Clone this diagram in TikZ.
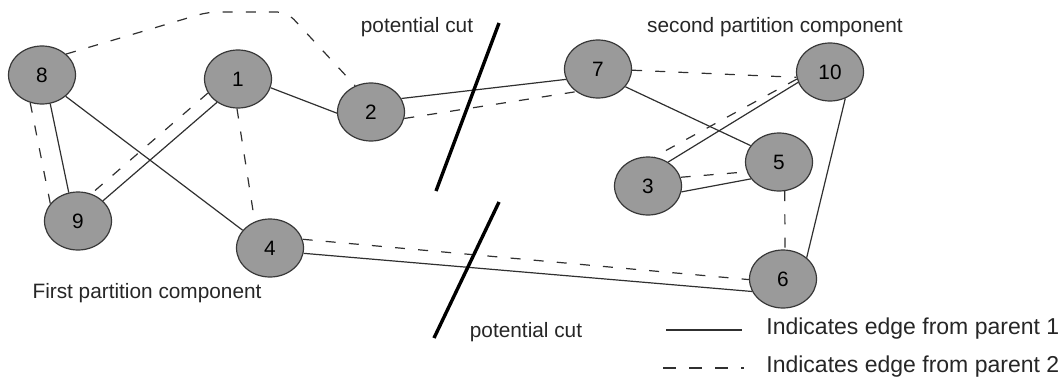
\documentclass[tikz,border=0pt]{standalone}
\usepackage{fontspec}
\setmainfont{Liberation Sans}
\usetikzlibrary{shapes.geometric}
\definecolor{vfill}{HTML}{9A9A9A}
\definecolor{vline}{HTML}{383838}
\definecolor{eline}{HTML}{303030}
\tikzset{
  vertex/.style={ellipse, draw=vline, line width=0.6pt, fill=vfill,
    minimum width=33.5pt, minimum height=29pt, inner sep=0pt,
    font=\fontsize{10.4}{12}\selectfont},
  pone/.style={draw=eline, line width=0.6pt},
  ptwo/.style={draw=eline, line width=0.6pt, dash pattern=on 5pt off 6.6pt},
  legtwo/.style={draw=eline, line width=0.7pt, dash pattern=on 6.5pt off 6.5pt},
  cutline/.style={draw=black, line width=1.7pt},
  label/.style={inner sep=0pt, font=\fontsize{10.4}{12}\selectfont, text=black!85},
  legend/.style={inner sep=0pt, anchor=west, font=\fontsize{11.5}{13}\selectfont, text=black!85}
}
\begin{document}
\begin{tikzpicture}[x=0.5pt, y=-0.5pt]
\useasboundingbox (0,0) rectangle (1063,380);

% vertices
\node[vertex] (n8)  at (42,75)   {8};
\node[vertex] (n1)  at (238,79)  {1};
\node[vertex] (n2)  at (371,112) {2};
\node[vertex] (n7)  at (598,69)  {7};
\node[vertex] (n10) at (830,72)  {10};
\node[vertex] (n5)  at (779,162) {5};
\node[vertex] (n3)  at (648,186) {3};
\node[vertex] (n9)  at (78,221)  {9};
\node[vertex] (n4)  at (270,248) {4};
\node[vertex] (n6)  at (783,279) {6};

% edges from parent 1
\draw[pone] (n8.286) -- (n9.108);
\draw[pone] (n8.318) -- (n4.147);
\draw[pone] (n1.228) -- (n9.39);
\draw[pone] (n1.345) -- (n2.182);
\draw[pone] (n2.24)  -- (n7.198);
\draw[pone] (n7.327) -- (n5.150);
\draw[pone] (n10.198) -- (n3.50);
\draw[pone] (n3.350) -- (n5.211);
\draw[pone] (n10.300) -- (n6.42);
\draw[pone] (n4.351) -- (n6.202);

% edges from parent 2
\coordinate (b1) at (208,12);
\coordinate (b2) at (287,12);
\draw[ptwo, rounded corners=5pt] (n8.41) -- (b1) -- (b2) -- (n2.121);
\draw[ptwo] (n8.247) -- (n9.148);
\draw[ptwo] (n1.205) -- (n9.64);
\draw[ptwo] (n1.268) -- (n4.120);
\draw[ptwo] (n2.349) -- (n7.226);
\draw[ptwo] (n7.358) -- (n10.189);
\draw[ptwo] (n10.192) -- (n3.78);
\draw[ptwo] (n3.15)  -- (n5.197);
\draw[ptwo] (n5.281) -- (n6.86);
\draw[ptwo] (n4.15)  -- (n6.181);

% cut lines
\coordinate (c1a) at (499,23);
\coordinate (c1b) at (436,191);
\coordinate (c2a) at (499,202);
\coordinate (c2b) at (434,338);
\draw[cutline] (c1a) -- (c1b);
\draw[cutline] (c2a) -- (c2b);

% labels
\node[label] (lcut1) at (417,27)  {potential cut};
\node[label] (lsec)  at (775,27)  {second partition component};
\node[label] (lfst)  at (147,293) {First partition component};
\node[label] (lcut2) at (526,332) {potential cut};

% legend
\coordinate (l1a) at (666,330);
\coordinate (l1b) at (742,330);
\coordinate (l2a) at (663,368);
\coordinate (l2b) at (744,368);
\draw[pone] (l1a) -- (l1b);
\draw[legtwo] (l2a) -- (l2b);
\node[legend] (leg1) at (766,329) {Indicates edge from parent 1};
\node[legend] (leg2) at (766,367) {Indicates edge from parent 2};
\end{tikzpicture}
\end{document}
